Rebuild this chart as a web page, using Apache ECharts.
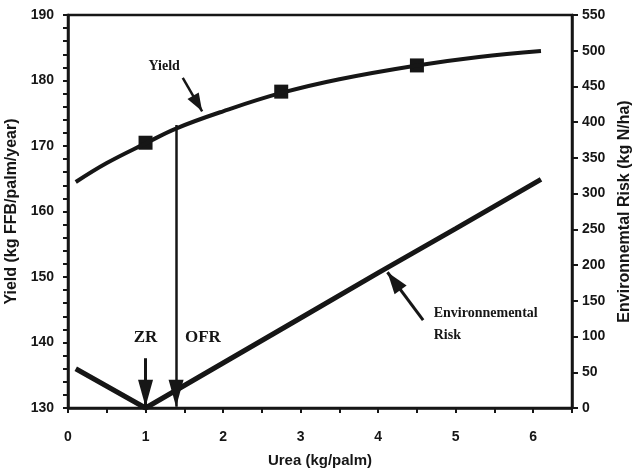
<!DOCTYPE html>
<html><head><meta charset="utf-8">
<script src="https://cdn.jsdelivr.net/npm/echarts@6/dist/echarts.min.js"></script>
<style>html,body{margin:0;padding:0;background:#fff}#c{width:634px;height:473px}</style>
</head><body><div id="c"></div>
<script>
// ---- data ----
const yieldX = [0.1, 0.5, 1.0, 1.4, 2.0, 2.75, 3.5, 4.5, 5.3, 6.1];
const yieldY = [164.5, 167.4, 170.4, 172.7, 175.3, 178.1, 180.2, 182.3, 183.6, 184.5];
const markerX = [1.0, 2.75, 4.5];
const markerY = [170.5, 178.3, 182.3];
const riskX = [0.1, 1.0, 2.0, 3.0, 4.0, 5.0, 6.1];
const riskY = [55, 0, 63, 126, 189, 251, 320];
const xTicks = [0, 1, 2, 3, 4, 5, 6];
const yieldTicks = [130, 140, 150, 160, 170, 180, 190];
const riskTicks = [0, 50, 100, 150, 200, 250, 300, 350, 400, 450, 500, 550];
const ofr = 1.394, zr = 1.0;

// ---- annotations (data coordinates) ----
const ink = '#161616';
const serif = '"Liberation Serif","Times New Roman",serif';
const sans = '"Liberation Sans",Arial,sans-serif';

const pair = (a, b) => a.map((v, i) => [v, b[i]]);

function arrowSeries(yAxisIndex, from, to, width, head) {
  return {
    type: 'line', yAxisIndex, data: [], silent: true,
    markLine: {
      silent: true, animation: false,
      symbol: ['none', 'triangle'], symbolSize: head,
      symbolOffset: [0, [0, head[1] / 2]],
      label: { show: false },
      lineStyle: { color: ink, width, type: 'solid', opacity: 1 },
      itemStyle: { color: ink, opacity: 1 },
      data: [[{ coord: from }, { coord: to }]]
    }
  };
}

const chart = echarts.init(document.getElementById('c'));
chart.setOption({
  animation: false,
  backgroundColor: '#fff',
  grid: { left: 68, right: 62, top: 15, bottom: 65, outerBoundsMode: 'none', containLabel: false,
    show: true, borderColor: ink, borderWidth: 2.5, backgroundColor: 'transparent' },
  xAxis: {
    type: 'value', min: 0, max: 6.5, interval: 1,
    name: 'Urea (kg/palm)', nameLocation: 'middle', nameGap: 45,
    nameTextStyle: { fontFamily: sans, fontWeight: 'bold', fontSize: 15, color: ink },
    axisLine: { show: true, lineStyle: { color: ink, width: 2.5 } },
    axisTick: { show: true, length: 5, lineStyle: { color: ink, width: 2 } },
    minorTick: { show: true, splitNumber: 2, length: 5, lineStyle: { color: ink, width: 2 } },
    splitLine: { show: false },
    axisLabel: { margin: 22, fontFamily: sans, fontWeight: 'bold', fontSize: 14, color: ink,
      formatter: v => xTicks.includes(v) ? String(v) : '' }
  },
  yAxis: [{
    type: 'value', min: yieldTicks[0], max: yieldTicks[yieldTicks.length - 1], interval: 10, position: 'left',
    name: 'Yield (kg FFB/palm/year)', nameLocation: 'middle', nameGap: 46, nameRotate: 90,
    nameTextStyle: { fontFamily: sans, fontWeight: 'bold', fontSize: 16, color: ink },
    axisLine: { show: true, lineStyle: { color: ink, width: 2.5 } },
    axisTick: { show: true, length: 5, lineStyle: { color: ink, width: 2 } },
    minorTick: { show: true, splitNumber: 5, length: 5, lineStyle: { color: ink, width: 2 } },
    splitLine: { show: false },
    axisLabel: { margin: 14, fontFamily: sans, fontWeight: 'bold', fontSize: 14, color: ink }
  }, {
    type: 'value', min: riskTicks[0], max: riskTicks[riskTicks.length - 1], interval: 50, position: 'right',
    name: 'Environnemtal Risk (kg N/ha)', nameLocation: 'middle', nameGap: 44, nameRotate: 90,
    nameTextStyle: { fontFamily: sans, fontWeight: 'bold', fontSize: 16, color: ink },
    axisLine: { show: true, lineStyle: { color: ink, width: 2.5 } },
    axisTick: { show: true, length: 6, lineStyle: { color: ink, width: 2 } },
    splitLine: { show: false },
    axisLabel: { margin: 10, fontFamily: sans, fontWeight: 'bold', fontSize: 14, color: ink }
  }],
  series: [
    { name: 'Yield', type: 'line', yAxisIndex: 0, smooth: 0.4, showSymbol: false, silent: true,
      lineStyle: { color: ink, width: 4 }, data: pair(yieldX, yieldY) },
    { name: 'YieldObs', type: 'scatter', yAxisIndex: 0, symbol: 'rect', symbolSize: 14, silent: true,
      itemStyle: { color: ink, opacity: 1 }, data: pair(markerX, markerY) },
    { name: 'Risk', type: 'line', yAxisIndex: 1, showSymbol: false, silent: true,
      lineStyle: { color: ink, width: 5 }, data: pair(riskX, riskY) },
    // annotation arrows
    arrowSeries(0, [ofr, 173.2], [ofr, 130.2], 2.5, [15, 27]),
    arrowSeries(0, [zr, 137.6], [zr, 130.2], 3, [15, 27]),
    arrowSeries(0, [1.48, 180.4], [1.73, 175.3], 2.5, [13, 18]),
    arrowSeries(1, [4.58, 123], [4.12, 190], 3, [15, 22]),
    // annotation texts
    { type: 'scatter', yAxisIndex: 0, silent: true, symbolSize: 1, itemStyle: { color: '#fff', opacity: 0 },
      label: { show: true, position: 'inside', color: ink, opacity: 1, fontFamily: serif, fontWeight: 'bold',
        formatter: p => p.data.name },
      data: [
        { name: 'Yield', value: [1.24, 182.1], label: { fontSize: 14 } },
        { name: 'ZR', value: [zr, 140.8], label: { fontSize: 17 } },
        { name: 'OFR', value: [1.74, 140.8], label: { fontSize: 17 } },
        { name: 'Environnemental\nRisk', value: [4.71, 142.7], label: { fontSize: 14, position: 'right', distance: 0, align: 'left', lineHeight: 22 } }
      ] }
  ]
});
</script></body></html>
